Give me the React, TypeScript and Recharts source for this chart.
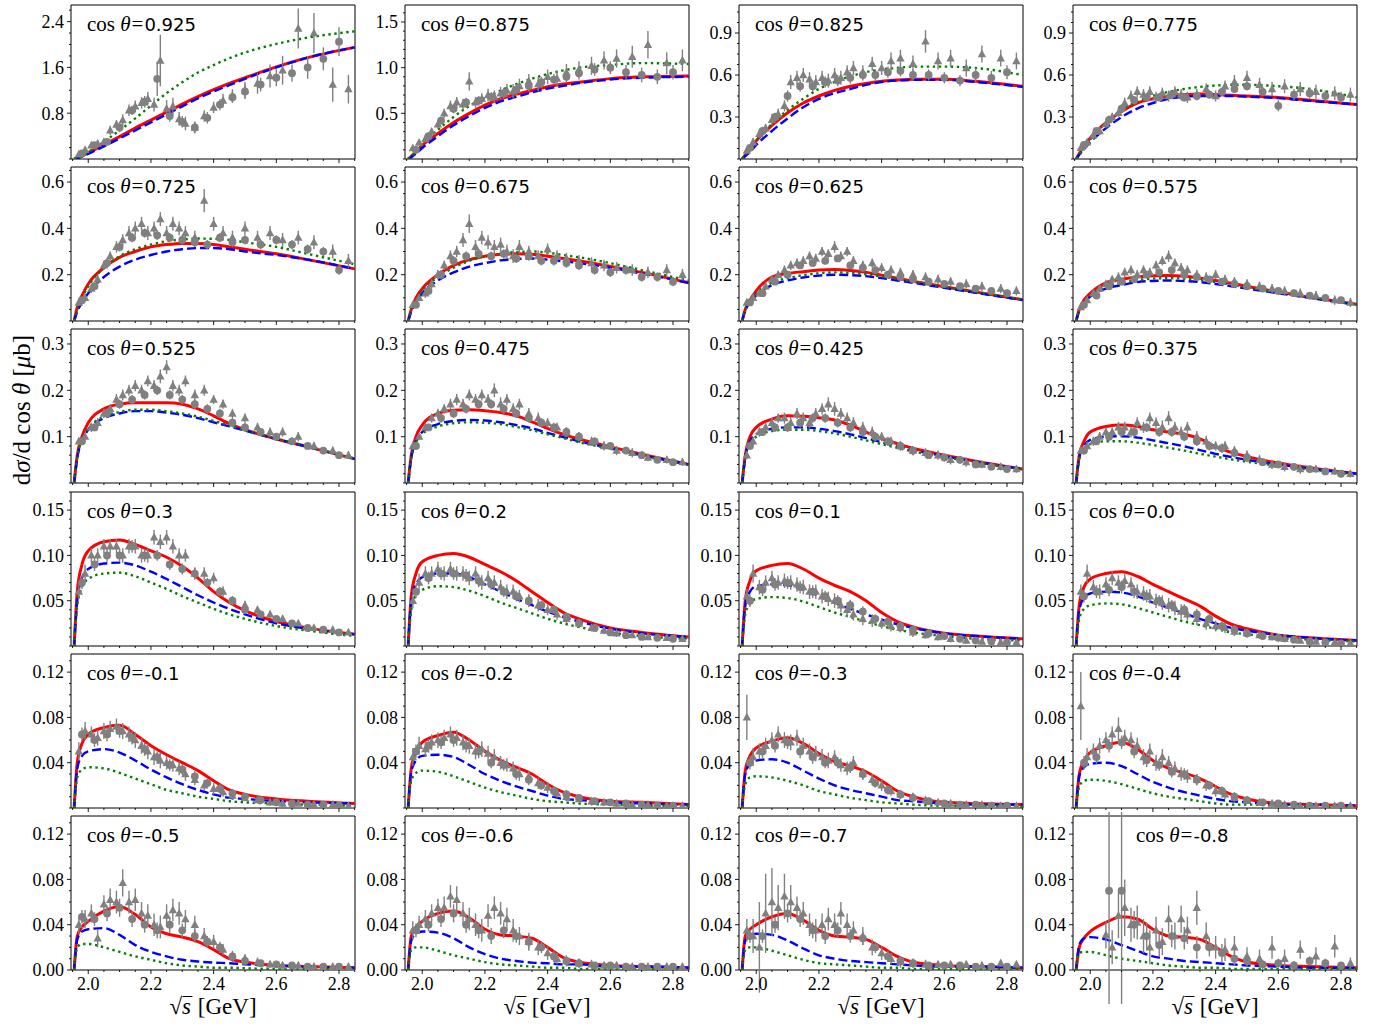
import React from 'react';
import { ComposedChart, Line, Scatter, XAxis, YAxis, ErrorBar, ReferenceArea } from 'recharts';

// panel titles, row-major (4 columns x 6 rows)
const cosLabels = [
  '0.925', '0.875', '0.825', '0.775',
  '0.725', '0.675', '0.625', '0.575',
  '0.525', '0.475', '0.425', '0.375',
  '0.3', '0.2', '0.1', '0.0',
  '-0.1', '-0.2', '-0.3', '-0.4',
  '-0.5', '-0.6', '-0.7', '-0.8',
];

// model curves: sqrt(s) grid shared by all panels
const curveEnergy = [1.955, 1.965, 1.98, 2.0, 2.05, 2.1, 2.15, 2.2, 2.25, 2.3, 2.35, 2.4, 2.45, 2.5, 2.6, 2.7, 2.85];

// full model (red solid)
const redCurves = [
  [0, 0.02, 0.05, 0.11, 0.25, 0.39, 0.54, 0.68, 0.82, 0.96, 1.09, 1.21, 1.32, 1.42, 1.61, 1.77, 1.95],
  [0, 0.03, 0.08, 0.15, 0.28, 0.40, 0.50, 0.59, 0.66, 0.71, 0.75, 0.79, 0.82, 0.84, 0.88, 0.90, 0.91],
  [0, 0.03, 0.07, 0.13, 0.24, 0.33, 0.40, 0.45, 0.49, 0.52, 0.54, 0.555, 0.565, 0.57, 0.57, 0.555, 0.52],
  [0, 0.04, 0.09, 0.15, 0.26, 0.34, 0.40, 0.43, 0.45, 0.46, 0.465, 0.46, 0.455, 0.45, 0.44, 0.42, 0.39],
  [0, 0.06, 0.11, 0.16, 0.23, 0.275, 0.30, 0.32, 0.33, 0.335, 0.335, 0.33, 0.32, 0.31, 0.29, 0.265, 0.225],
  [0, 0.05, 0.10, 0.14, 0.20, 0.24, 0.265, 0.28, 0.288, 0.29, 0.288, 0.28, 0.27, 0.26, 0.235, 0.21, 0.165],
  [0, 0.05, 0.09, 0.13, 0.19, 0.205, 0.213, 0.22, 0.222, 0.218, 0.21, 0.198, 0.185, 0.172, 0.148, 0.125, 0.092],
  [0, 0.05, 0.09, 0.12, 0.165, 0.18, 0.19, 0.195, 0.196, 0.193, 0.185, 0.175, 0.163, 0.15, 0.125, 0.103, 0.072],
  [0, 0.06, 0.10, 0.13, 0.16, 0.17, 0.173, 0.173, 0.173, 0.17, 0.16, 0.145, 0.128, 0.115, 0.095, 0.078, 0.052],
  [0, 0.06, 0.10, 0.125, 0.15, 0.157, 0.158, 0.156, 0.152, 0.145, 0.132, 0.118, 0.105, 0.095, 0.078, 0.062, 0.04],
  [0, 0.06, 0.10, 0.12, 0.138, 0.145, 0.144, 0.141, 0.136, 0.125, 0.11, 0.096, 0.085, 0.075, 0.06, 0.047, 0.03],
  [0, 0.06, 0.09, 0.11, 0.122, 0.125, 0.122, 0.115, 0.11, 0.105, 0.095, 0.078, 0.066, 0.057, 0.043, 0.033, 0.02],
  [0, 0.06, 0.09, 0.105, 0.115, 0.117, 0.112, 0.105, 0.098, 0.088, 0.075, 0.06, 0.048, 0.039, 0.027, 0.02, 0.013],
  [0, 0.055, 0.08, 0.093, 0.1, 0.102, 0.098, 0.09, 0.082, 0.072, 0.06, 0.048, 0.037, 0.03, 0.02, 0.015, 0.01],
  [0, 0.05, 0.072, 0.083, 0.089, 0.091, 0.085, 0.075, 0.067, 0.06, 0.05, 0.037, 0.027, 0.021, 0.014, 0.011, 0.008],
  [0, 0.045, 0.065, 0.074, 0.08, 0.082, 0.077, 0.068, 0.06, 0.052, 0.044, 0.033, 0.024, 0.019, 0.012, 0.009, 0.006],
  [0, 0.04, 0.057, 0.065, 0.071, 0.073, 0.065, 0.055, 0.047, 0.04, 0.033, 0.024, 0.016, 0.012, 0.008, 0.006, 0.004],
  [0, 0.035, 0.05, 0.058, 0.064, 0.067, 0.06, 0.05, 0.042, 0.036, 0.03, 0.021, 0.014, 0.01, 0.006, 0.005, 0.003],
  [0, 0.033, 0.046, 0.053, 0.059, 0.062, 0.057, 0.048, 0.041, 0.037, 0.032, 0.024, 0.015, 0.01, 0.005, 0.004, 0.003],
  [0, 0.03, 0.042, 0.049, 0.055, 0.058, 0.052, 0.042, 0.035, 0.031, 0.026, 0.019, 0.012, 0.008, 0.004, 0.003, 0.002],
  [0, 0.03, 0.038, 0.043, 0.052, 0.056, 0.049, 0.038, 0.032, 0.029, 0.025, 0.018, 0.01, 0.007, 0.004, 0.003, 0.002],
  [0, 0.03, 0.038, 0.043, 0.05, 0.052, 0.046, 0.036, 0.031, 0.03, 0.028, 0.02, 0.011, 0.007, 0.004, 0.003, 0.002],
  [0, 0.03, 0.036, 0.04, 0.047, 0.05, 0.044, 0.035, 0.03, 0.029, 0.027, 0.02, 0.012, 0.007, 0.004, 0.003, 0.002],
  [0, 0.02, 0.028, 0.034, 0.042, 0.047, 0.045, 0.036, 0.03, 0.029, 0.027, 0.02, 0.012, 0.007, 0.004, 0.003, 0.002],
];

// blue dashed
const blueCurves = [
  [0, 0.015, 0.04, 0.09, 0.22, 0.36, 0.50, 0.64, 0.78, 0.92, 1.06, 1.18, 1.29, 1.40, 1.60, 1.77, 1.95],
  [0, 0.02, 0.06, 0.12, 0.25, 0.37, 0.47, 0.56, 0.63, 0.68, 0.73, 0.77, 0.80, 0.83, 0.87, 0.89, 0.90],
  [0, 0.02, 0.05, 0.10, 0.20, 0.29, 0.37, 0.43, 0.47, 0.50, 0.53, 0.55, 0.56, 0.565, 0.565, 0.55, 0.515],
  [0, 0.03, 0.07, 0.12, 0.22, 0.30, 0.36, 0.40, 0.43, 0.445, 0.45, 0.45, 0.45, 0.445, 0.435, 0.415, 0.39],
  [0, 0.04, 0.08, 0.12, 0.19, 0.235, 0.265, 0.285, 0.30, 0.31, 0.315, 0.315, 0.31, 0.30, 0.285, 0.265, 0.225],
  [0, 0.04, 0.08, 0.12, 0.175, 0.21, 0.235, 0.25, 0.262, 0.268, 0.27, 0.265, 0.258, 0.25, 0.23, 0.205, 0.165],
  [0, 0.045, 0.08, 0.11, 0.155, 0.175, 0.188, 0.196, 0.2, 0.198, 0.194, 0.185, 0.175, 0.165, 0.143, 0.122, 0.09],
  [0, 0.045, 0.08, 0.105, 0.14, 0.155, 0.168, 0.173, 0.175, 0.173, 0.168, 0.16, 0.15, 0.14, 0.12, 0.1, 0.07],
  [0, 0.055, 0.09, 0.115, 0.14, 0.15, 0.155, 0.155, 0.152, 0.147, 0.14, 0.131, 0.122, 0.113, 0.095, 0.078, 0.052],
  [0, 0.055, 0.09, 0.11, 0.127, 0.134, 0.136, 0.135, 0.131, 0.125, 0.118, 0.108, 0.099, 0.09, 0.075, 0.06, 0.04],
  [0, 0.055, 0.09, 0.105, 0.117, 0.12, 0.12, 0.117, 0.112, 0.105, 0.097, 0.088, 0.079, 0.071, 0.058, 0.046, 0.03],
  [0, 0.055, 0.08, 0.093, 0.1, 0.101, 0.098, 0.092, 0.086, 0.079, 0.071, 0.063, 0.056, 0.05, 0.04, 0.031, 0.02],
  [0, 0.05, 0.075, 0.085, 0.091, 0.092, 0.089, 0.082, 0.074, 0.065, 0.056, 0.048, 0.041, 0.035, 0.025, 0.019, 0.013],
  [0, 0.05, 0.068, 0.076, 0.08, 0.08, 0.076, 0.068, 0.06, 0.052, 0.045, 0.038, 0.032, 0.027, 0.019, 0.014, 0.01],
  [0, 0.045, 0.06, 0.066, 0.068, 0.067, 0.062, 0.055, 0.048, 0.041, 0.035, 0.029, 0.024, 0.02, 0.014, 0.011, 0.008],
  [0, 0.04, 0.053, 0.058, 0.06, 0.059, 0.055, 0.048, 0.042, 0.036, 0.03, 0.025, 0.02, 0.017, 0.012, 0.009, 0.006],
  [0, 0.035, 0.046, 0.05, 0.052, 0.049, 0.042, 0.034, 0.027, 0.021, 0.016, 0.012, 0.009, 0.008, 0.006, 0.005, 0.004],
  [0, 0.032, 0.042, 0.046, 0.047, 0.045, 0.038, 0.03, 0.024, 0.019, 0.015, 0.011, 0.008, 0.007, 0.005, 0.004, 0.003],
  [0, 0.03, 0.039, 0.042, 0.043, 0.04, 0.033, 0.026, 0.02, 0.016, 0.013, 0.01, 0.007, 0.006, 0.004, 0.003, 0.003],
  [0, 0.028, 0.036, 0.039, 0.04, 0.037, 0.03, 0.023, 0.018, 0.014, 0.011, 0.008, 0.006, 0.005, 0.003, 0.003, 0.002],
  [0, 0.027, 0.034, 0.036, 0.037, 0.031, 0.022, 0.016, 0.012, 0.009, 0.0075, 0.0065, 0.006, 0.005, 0.004, 0.003, 0.002],
  [0, 0.026, 0.032, 0.034, 0.033, 0.028, 0.02, 0.014, 0.01, 0.008, 0.0065, 0.006, 0.005, 0.005, 0.003, 0.003, 0.002],
  [0, 0.026, 0.03, 0.032, 0.031, 0.026, 0.019, 0.013, 0.01, 0.008, 0.007, 0.006, 0.005, 0.004, 0.003, 0.003, 0.002],
  [0, 0.022, 0.028, 0.029, 0.027, 0.022, 0.017, 0.012, 0.01, 0.008, 0.007, 0.006, 0.005, 0.004, 0.003, 0.002, 0.002],
];

// green dotted
const greenCurves = [
  [0, 0.02, 0.05, 0.12, 0.30, 0.50, 0.71, 0.93, 1.15, 1.34, 1.51, 1.64, 1.76, 1.86, 2.01, 2.12, 2.23],
  [0, 0.03, 0.08, 0.16, 0.32, 0.46, 0.58, 0.67, 0.75, 0.82, 0.88, 0.93, 0.97, 1.0, 1.03, 1.05, 1.04],
  [0, 0.03, 0.07, 0.13, 0.25, 0.35, 0.43, 0.50, 0.55, 0.59, 0.62, 0.64, 0.65, 0.66, 0.66, 0.65, 0.60],
  [0, 0.03, 0.08, 0.14, 0.26, 0.35, 0.41, 0.45, 0.48, 0.50, 0.515, 0.525, 0.53, 0.53, 0.52, 0.50, 0.44],
  [0, 0.05, 0.10, 0.15, 0.23, 0.28, 0.31, 0.33, 0.345, 0.352, 0.356, 0.355, 0.35, 0.34, 0.32, 0.29, 0.245],
  [0, 0.05, 0.09, 0.13, 0.19, 0.23, 0.26, 0.28, 0.29, 0.298, 0.30, 0.295, 0.285, 0.275, 0.25, 0.22, 0.175],
  [0, 0.05, 0.085, 0.12, 0.165, 0.185, 0.198, 0.206, 0.21, 0.208, 0.202, 0.192, 0.182, 0.17, 0.147, 0.125, 0.092],
  [0, 0.05, 0.085, 0.11, 0.15, 0.165, 0.177, 0.183, 0.185, 0.183, 0.177, 0.168, 0.157, 0.145, 0.123, 0.102, 0.071],
  [0, 0.056, 0.092, 0.117, 0.143, 0.153, 0.158, 0.158, 0.155, 0.15, 0.143, 0.134, 0.124, 0.114, 0.096, 0.079, 0.053],
  [0, 0.053, 0.087, 0.106, 0.122, 0.129, 0.131, 0.13, 0.127, 0.121, 0.114, 0.105, 0.097, 0.088, 0.074, 0.059, 0.039],
  [0, 0.052, 0.086, 0.1, 0.112, 0.115, 0.115, 0.112, 0.107, 0.1, 0.092, 0.084, 0.076, 0.068, 0.056, 0.044, 0.029],
  [0, 0.05, 0.073, 0.084, 0.09, 0.09, 0.087, 0.082, 0.076, 0.07, 0.063, 0.057, 0.051, 0.046, 0.037, 0.029, 0.018],
  [0, 0.045, 0.065, 0.074, 0.08, 0.081, 0.077, 0.07, 0.063, 0.055, 0.048, 0.041, 0.035, 0.03, 0.022, 0.017, 0.011],
  [0, 0.04, 0.056, 0.062, 0.066, 0.065, 0.061, 0.055, 0.048, 0.042, 0.036, 0.03, 0.025, 0.021, 0.015, 0.011, 0.008],
  [0, 0.035, 0.047, 0.052, 0.054, 0.053, 0.049, 0.043, 0.037, 0.032, 0.027, 0.022, 0.018, 0.015, 0.011, 0.008, 0.006],
  [0, 0.03, 0.041, 0.045, 0.047, 0.046, 0.042, 0.037, 0.032, 0.027, 0.023, 0.019, 0.015, 0.013, 0.009, 0.007, 0.005],
  [0, 0.027, 0.034, 0.036, 0.035, 0.031, 0.026, 0.021, 0.016, 0.013, 0.01, 0.008, 0.006, 0.005, 0.004, 0.003, 0.002],
  [0, 0.024, 0.031, 0.033, 0.032, 0.028, 0.023, 0.018, 0.014, 0.011, 0.008, 0.006, 0.005, 0.004, 0.003, 0.002, 0.002],
  [0, 0.021, 0.027, 0.028, 0.027, 0.024, 0.02, 0.015, 0.012, 0.009, 0.007, 0.005, 0.004, 0.003, 0.002, 0.002, 0.001],
  [0, 0.019, 0.024, 0.025, 0.024, 0.021, 0.017, 0.013, 0.01, 0.008, 0.006, 0.004, 0.003, 0.003, 0.002, 0.001, 0.001],
  [0, 0.02, 0.023, 0.023, 0.02, 0.016, 0.012, 0.009, 0.006, 0.004, 0.003, 0.002, 0.002, 0.0015, 0.001, 0.001, 0.001],
  [0, 0.018, 0.02, 0.02, 0.017, 0.013, 0.01, 0.007, 0.005, 0.004, 0.003, 0.002, 0.002, 0.001, 0.001, 0.001, 0.001],
  [0, 0.018, 0.02, 0.02, 0.017, 0.013, 0.009, 0.006, 0.005, 0.004, 0.003, 0.002, 0.002, 0.001, 0.001, 0.001, 0.001],
  [0, 0.015, 0.016, 0.016, 0.013, 0.01, 0.008, 0.006, 0.004, 0.003, 0.002, 0.002, 0.001, 0.001, 0.001, 0.001, 0.001],
];

// measured points: triangles
const triEnergy = [1.97, 1.99, 2.01, 2.03, 2.05, 2.07, 2.09, 2.11, 2.13, 2.15, 2.17, 2.19, 2.21, 2.23, 2.25, 2.27, 2.29, 2.31, 2.34, 2.37, 2.40, 2.43, 2.46, 2.50, 2.54, 2.58, 2.62, 2.67, 2.72, 2.78, 2.83];

const triValues = [
  [0.08, 0.16, 0.24, 0.27, 0.30, 0.50, 0.60, 0.68, 0.85, 0.92, 0.98, 1.05, 0.95, 1.72, 0.88, 0.92, 0.70, 0.62, 0.55, 0.75, 0.90, 1.02, 1.10, 1.20, 1.32, 1.45, 1.55, 2.28, 2.20, 1.30, 1.22],
  [0.12, 0.18, 0.22, 0.30, 0.38, 0.50, 0.58, 0.62, 0.60, 0.85, 0.62, 0.66, 0.70, 0.68, 0.72, 0.75, 0.74, 0.80, 0.85, 0.82, 0.90, 0.88, 0.95, 0.98, 1.02, 1.08, 1.10, 1.12, 1.25, 1.05, 1.08],
  [0.06, 0.12, 0.18, 0.22, 0.28, 0.32, 0.38, 0.55, 0.58, 0.60, 0.57, 0.55, 0.58, 0.56, 0.60, 0.58, 0.62, 0.65, 0.62, 0.68, 0.65, 0.70, 0.72, 0.68, 0.84, 0.70, 0.72, 0.65, 0.75, 0.72, 0.70],
  [0.08, 0.12, 0.17, 0.20, 0.25, 0.30, 0.33, 0.40, 0.45, 0.48, 0.46, 0.48, 0.44, 0.47, 0.45, 0.48, 0.46, 0.44, 0.46, 0.50, 0.45, 0.52, 0.55, 0.58, 0.53, 0.50, 0.52, 0.50, 0.48, 0.47, 0.46],
  [0.08, 0.10, 0.14, 0.18, 0.24, 0.28, 0.32, 0.35, 0.38, 0.40, 0.42, 0.38, 0.40, 0.44, 0.38, 0.42, 0.40, 0.38, 0.36, 0.52, 0.42, 0.38, 0.36, 0.40, 0.36, 0.38, 0.35, 0.36, 0.34, 0.30, 0.26],
  [0.07, 0.10, 0.12, 0.16, 0.20, 0.24, 0.28, 0.30, 0.35, 0.42, 0.32, 0.36, 0.34, 0.32, 0.33, 0.30, 0.28, 0.32, 0.30, 0.28, 0.31, 0.28, 0.27, 0.26, 0.25, 0.24, 0.23, 0.22, 0.21, 0.22, 0.20],
  [0.08, 0.10, 0.12, 0.15, 0.18, 0.20, 0.22, 0.24, 0.25, 0.26, 0.28, 0.27, 0.30, 0.29, 0.32, 0.28, 0.30, 0.26, 0.24, 0.25, 0.23, 0.22, 0.21, 0.20, 0.19, 0.18, 0.17, 0.16, 0.15, 0.14, 0.13],
  [0.06, 0.09, 0.12, 0.14, 0.16, 0.18, 0.19, 0.21, 0.22, 0.20, 0.22, 0.21, 0.24, 0.26, 0.28, 0.25, 0.23, 0.22, 0.20, 0.19, 0.20, 0.18, 0.17, 0.16, 0.15, 0.14, 0.13, 0.12, 0.11, 0.09, 0.08],
  [0.09, 0.10, 0.12, 0.13, 0.15, 0.16, 0.18, 0.19, 0.20, 0.21, 0.20, 0.22, 0.21, 0.23, 0.25, 0.21, 0.20, 0.22, 0.19, 0.20, 0.18, 0.17, 0.15, 0.14, 0.12, 0.11, 0.11, 0.10, 0.08, 0.07, 0.06],
  [0.08, 0.10, 0.12, 0.14, 0.15, 0.16, 0.17, 0.18, 0.17, 0.19, 0.18, 0.19, 0.18, 0.20, 0.17, 0.18, 0.16, 0.17, 0.15, 0.14, 0.13, 0.12, 0.11, 0.10, 0.09, 0.08, 0.07, 0.065, 0.055, 0.05, 0.045],
  [0.06, 0.09, 0.11, 0.12, 0.13, 0.14, 0.14, 0.13, 0.15, 0.14, 0.13, 0.15, 0.16, 0.17, 0.16, 0.15, 0.14, 0.13, 0.12, 0.11, 0.10, 0.09, 0.08, 0.07, 0.065, 0.06, 0.05, 0.045, 0.04, 0.035, 0.03],
  [0.07, 0.08, 0.09, 0.10, 0.11, 0.11, 0.12, 0.12, 0.11, 0.13, 0.12, 0.14, 0.13, 0.12, 0.14, 0.12, 0.11, 0.12, 0.10, 0.09, 0.08, 0.08, 0.07, 0.06, 0.05, 0.04, 0.035, 0.03, 0.03, 0.025, 0.02],
  [0.06, 0.08, 0.10, 0.10, 0.11, 0.11, 0.11, 0.10, 0.11, 0.11, 0.10, 0.10, 0.12, 0.115, 0.12, 0.11, 0.10, 0.10, 0.08, 0.08, 0.075, 0.06, 0.05, 0.045, 0.04, 0.035, 0.03, 0.025, 0.02, 0.018, 0.015],
  [0.05, 0.07, 0.08, 0.08, 0.085, 0.08, 0.085, 0.08, 0.08, 0.075, 0.08, 0.07, 0.075, 0.07, 0.065, 0.06, 0.06, 0.055, 0.05, 0.045, 0.04, 0.035, 0.03, 0.025, 0.02, 0.017, 0.014, 0.012, 0.01, 0.009, 0.008],
  [0.055, 0.08, 0.065, 0.07, 0.075, 0.07, 0.072, 0.07, 0.068, 0.065, 0.06, 0.06, 0.055, 0.052, 0.05, 0.045, 0.04, 0.035, 0.03, 0.028, 0.025, 0.022, 0.02, 0.015, 0.012, 0.01, 0.008, 0.006, 0.005, 0.004, 0.004],
  [0.06, 0.08, 0.065, 0.06, 0.068, 0.075, 0.07, 0.072, 0.068, 0.06, 0.058, 0.055, 0.05, 0.048, 0.045, 0.042, 0.038, 0.035, 0.03, 0.025, 0.022, 0.02, 0.016, 0.014, 0.012, 0.01, 0.008, 0.006, 0.005, 0.004, 0.003],
  [0.05, 0.068, 0.065, 0.062, 0.068, 0.07, 0.072, 0.068, 0.065, 0.06, 0.055, 0.05, 0.045, 0.042, 0.04, 0.038, 0.035, 0.03, 0.025, 0.02, 0.017, 0.014, 0.011, 0.009, 0.007, 0.005, 0.004, 0.004, 0.003, 0.003, 0.002],
  [0.045, 0.055, 0.052, 0.058, 0.06, 0.062, 0.065, 0.062, 0.058, 0.055, 0.05, 0.052, 0.048, 0.045, 0.04, 0.038, 0.035, 0.03, 0.028, 0.022, 0.018, 0.013, 0.01, 0.008, 0.006, 0.005, 0.004, 0.003, 0.003, 0.002, 0.002],
  [0.08, 0.045, 0.05, 0.055, 0.06, 0.065, 0.06, 0.058, 0.062, 0.055, 0.05, 0.048, 0.045, 0.042, 0.045, 0.038, 0.035, 0.04, 0.03, 0.025, 0.02, 0.015, 0.012, 0.01, 0.007, 0.005, 0.004, 0.003, 0.003, 0.002, 0.002],
  [0.09, 0.045, 0.05, 0.055, 0.06, 0.065, 0.07, 0.062, 0.06, 0.055, 0.045, 0.05, 0.04, 0.045, 0.04, 0.035, 0.03, 0.028, 0.025, 0.02, 0.015, 0.012, 0.009, 0.007, 0.005, 0.004, 0.003, 0.002, 0.002, 0.002, 0.002],
  [0.04, 0.045, 0.05, 0.028, 0.058, 0.062, 0.06, 0.077, 0.06, 0.062, 0.05, 0.048, 0.04, 0.038, 0.048, 0.053, 0.05, 0.045, 0.04, 0.03, 0.025, 0.018, 0.012, 0.01, 0.007, 0.005, 0.004, 0.004, 0.003, 0.003, 0.003],
  [0.035, 0.04, 0.045, 0.05, 0.055, 0.055, 0.065, 0.062, 0.05, 0.045, 0.04, 0.035, 0.048, 0.055, 0.05, 0.045, 0.035, 0.03, 0.025, 0.02, 0.015, 0.01, 0.008, 0.006, 0.005, 0.004, 0.004, 0.003, 0.003, 0.003, 0.003],
  [0.035, 0.03, 0.02, 0.05, 0.06, 0.055, 0.065, 0.06, 0.055, 0.05, 0.04, 0.035, 0.04, 0.045, 0.04, 0.05, 0.04, 0.035, 0.03, 0.02, 0.015, 0.01, 0.007, 0.006, 0.005, 0.005, 0.005, 0.005, 0.004, 0.006, 0.005],
  [null, null, null, null, 0.031, 0.02, 0.048, 0.055, 0.04, 0.042, 0.03, 0.02, 0.035, 0.025, 0.045, 0.03, 0.045, 0.035, 0.055, 0.03, 0.02, 0.018, 0.02, 0.012, 0.01, 0.02, 0.01, 0.018, 0.012, 0.021, 0.006],
];

// triangle error bars
const errTri925 = [0.04, 0.05, 0.05, 0.06, 0.06, 0.08, 0.08, 0.1, 0.1, 0.1, 0.1, 0.12, 0.12, 0.45, 0.15, 0.15, 0.12, 0.12, 0.1, 0.1, 0.1, 0.12, 0.12, 0.15, 0.18, 0.2, 0.25, 0.35, 0.35, 0.3, 0.25];
const errTri875 = [0.03, 0.03, 0.04, 0.04, 0.05, 0.05, 0.06, 0.06, 0.06, 0.1, 0.06, 0.06, 0.07, 0.07, 0.07, 0.07, 0.08, 0.08, 0.08, 0.08, 0.08, 0.09, 0.09, 0.09, 0.1, 0.1, 0.1, 0.12, 0.15, 0.12, 0.12];
const errTri825 = [0.02, 0.03, 0.03, 0.03, 0.04, 0.04, 0.04, 0.05, 0.05, 0.05, 0.05, 0.05, 0.05, 0.05, 0.05, 0.05, 0.05, 0.05, 0.05, 0.05, 0.05, 0.06, 0.06, 0.06, 0.08, 0.06, 0.06, 0.06, 0.06, 0.06, 0.06];
const errTri775 = [0.02, 0.02, 0.03, 0.03, 0.03, 0.03, 0.03, 0.04, 0.04, 0.04, 0.04, 0.04, 0.04, 0.04, 0.04, 0.04, 0.04, 0.04, 0.04, 0.04, 0.04, 0.04, 0.05, 0.05, 0.05, 0.05, 0.05, 0.05, 0.05, 0.05, 0.05];
const errTri725 = [0.015, 0.015, 0.02, 0.02, 0.02, 0.02, 0.025, 0.025, 0.03, 0.03, 0.03, 0.03, 0.03, 0.03, 0.03, 0.03, 0.03, 0.03, 0.03, 0.05, 0.03, 0.03, 0.03, 0.03, 0.03, 0.03, 0.03, 0.03, 0.03, 0.03, 0.03];
const errTri675 = [0.015, 0.015, 0.02, 0.02, 0.02, 0.02, 0.025, 0.025, 0.03, 0.04, 0.03, 0.03, 0.03, 0.03, 0.03, 0.03, 0.03, 0.03, 0.025, 0.025, 0.025, 0.025, 0.025, 0.025, 0.025, 0.025, 0.025, 0.025, 0.025, 0.025, 0.025];
const errTriRow2 = [0.012, 0.012, 0.015, 0.015, 0.015, 0.015, 0.02, 0.02, 0.02, 0.02, 0.02, 0.02, 0.02, 0.02, 0.025, 0.02, 0.02, 0.02, 0.02, 0.02, 0.02, 0.02, 0.02, 0.02, 0.02, 0.02, 0.02, 0.02, 0.02, 0.02, 0.02];
const errTriRow3 = [0.008, 0.008, 0.01, 0.01, 0.01, 0.01, 0.012, 0.012, 0.012, 0.012, 0.012, 0.012, 0.012, 0.015, 0.015, 0.012, 0.012, 0.012, 0.012, 0.012, 0.01, 0.01, 0.01, 0.01, 0.01, 0.01, 0.01, 0.01, 0.008, 0.008, 0.008];
const errTriRow4 = [0.008, 0.01, 0.008, 0.008, 0.008, 0.008, 0.008, 0.008, 0.008, 0.008, 0.008, 0.008, 0.008, 0.008, 0.008, 0.008, 0.008, 0.007, 0.007, 0.007, 0.006, 0.006, 0.005, 0.005, 0.004, 0.004, 0.004, 0.003, 0.003, 0.003, 0.003];
const errTriRow5 = [0.008, 0.008, 0.007, 0.007, 0.007, 0.007, 0.007, 0.007, 0.007, 0.007, 0.007, 0.007, 0.007, 0.007, 0.006, 0.006, 0.006, 0.006, 0.005, 0.005, 0.005, 0.004, 0.004, 0.003, 0.003, 0.003, 0.003, 0.002, 0.002, 0.002, 0.002];
const errTriM03 = [0.02, 0.008, 0.007, 0.007, 0.007, 0.007, 0.007, 0.007, 0.007, 0.007, 0.007, 0.007, 0.007, 0.007, 0.006, 0.006, 0.006, 0.006, 0.005, 0.005, 0.005, 0.004, 0.004, 0.003, 0.003, 0.003, 0.003, 0.002, 0.002, 0.002, 0.002];
const errTriM04 = [0.03, 0.008, 0.007, 0.007, 0.007, 0.007, 0.01, 0.007, 0.007, 0.007, 0.007, 0.007, 0.007, 0.007, 0.006, 0.006, 0.006, 0.006, 0.005, 0.005, 0.005, 0.004, 0.004, 0.003, 0.003, 0.003, 0.003, 0.002, 0.002, 0.002, 0.002];
const errTriRow6 = [0.008, 0.008, 0.008, 0.008, 0.008, 0.01, 0.01, 0.012, 0.01, 0.01, 0.01, 0.01, 0.01, 0.01, 0.01, 0.01, 0.01, 0.008, 0.008, 0.007, 0.006, 0.005, 0.005, 0.004, 0.004, 0.003, 0.003, 0.003, 0.003, 0.003, 0.003];
const errTriM07 = [0.01, 0.015, 0.04, 0.035, 0.03, 0.02, 0.02, 0.015, 0.01, 0.01, 0.01, 0.01, 0.01, 0.01, 0.01, 0.01, 0.01, 0.008, 0.008, 0.007, 0.006, 0.005, 0.005, 0.004, 0.004, 0.003, 0.003, 0.003, 0.003, 0.003, 0.003];
const errTriM08 = [0, 0, 0, 0, 0.012, 0.015, 0.02, 0.025, 0.015, 0.015, 0.015, 0.015, 0.012, 0.012, 0.012, 0.012, 0.012, 0.012, 0.015, 0.012, 0.01, 0.01, 0.01, 0.008, 0.008, 0.01, 0.008, 0.008, 0.008, 0.01, 0.005];

const triErrors = [
  errTri925, errTri875, errTri825, errTri775,
  errTri725, errTri675, errTriRow2, errTriRow2,
  errTriRow3, errTriRow3, errTriRow3, errTriRow3,
  errTriRow4, errTriRow4, errTriRow4, errTriRow4,
  errTriRow5, errTriRow5, errTriM03, errTriM04,
  errTriRow6, errTriRow6, errTriM07, errTriM08,
];

// measured points: circles
const circEnergy = [1.98, 2.02, 2.06, 2.10, 2.14, 2.18, 2.22, 2.26, 2.30, 2.34, 2.38, 2.42, 2.46, 2.50, 2.55, 2.60, 2.65, 2.70, 2.75, 2.80];

const circValues = [
  [0.10, 0.24, 0.30, 0.55, 0.85, 1.00, 1.40, 0.75, 0.65, 0.55, 0.72, 0.95, 1.08, 1.18, 1.30, 1.42, 1.50, 1.60, 1.75, 2.05],
  [0.10, 0.25, 0.42, 0.55, 0.62, 0.64, 0.68, 0.72, 0.76, 0.80, 0.84, 0.87, 0.90, 0.94, 0.98, 1.00, 0.95, 0.92, 0.90, 0.95],
  [0.08, 0.20, 0.30, 0.45, 0.52, 0.52, 0.55, 0.56, 0.58, 0.60, 0.60, 0.62, 0.63, 0.60, 0.60, 0.58, 0.56, 0.60, 0.58, 0.62],
  [0.10, 0.20, 0.28, 0.36, 0.42, 0.44, 0.44, 0.46, 0.44, 0.45, 0.46, 0.48, 0.50, 0.52, 0.48, 0.38, 0.46, 0.47, 0.45, 0.44],
  [0.09, 0.15, 0.25, 0.32, 0.36, 0.38, 0.37, 0.36, 0.35, 0.34, 0.33, 0.36, 0.34, 0.35, 0.33, 0.35, 0.33, 0.31, 0.30, 0.22],
  [0.07, 0.13, 0.20, 0.26, 0.28, 0.29, 0.28, 0.29, 0.27, 0.28, 0.26, 0.26, 0.25, 0.24, 0.22, 0.21, 0.22, 0.19, 0.19, 0.17],
  [0.08, 0.12, 0.17, 0.20, 0.24, 0.25, 0.26, 0.27, 0.24, 0.23, 0.22, 0.20, 0.19, 0.18, 0.17, 0.16, 0.15, 0.14, 0.13, 0.12],
  [0.07, 0.11, 0.15, 0.17, 0.18, 0.20, 0.21, 0.22, 0.20, 0.19, 0.18, 0.17, 0.16, 0.15, 0.14, 0.13, 0.12, 0.11, 0.10, 0.09],
  [0.09, 0.12, 0.15, 0.17, 0.18, 0.19, 0.20, 0.19, 0.18, 0.17, 0.16, 0.15, 0.13, 0.12, 0.11, 0.10, 0.09, 0.08, 0.07, 0.06],
  [0.08, 0.12, 0.14, 0.15, 0.16, 0.17, 0.17, 0.16, 0.15, 0.14, 0.13, 0.12, 0.11, 0.10, 0.09, 0.08, 0.07, 0.06, 0.05, 0.045],
  [0.08, 0.11, 0.12, 0.12, 0.13, 0.14, 0.14, 0.13, 0.12, 0.11, 0.10, 0.09, 0.08, 0.07, 0.06, 0.055, 0.05, 0.04, 0.035, 0.03],
  [0.07, 0.09, 0.10, 0.11, 0.11, 0.12, 0.11, 0.11, 0.10, 0.09, 0.08, 0.075, 0.065, 0.055, 0.045, 0.04, 0.035, 0.03, 0.025, 0.02],
  [0.07, 0.09, 0.10, 0.10, 0.11, 0.10, 0.10, 0.09, 0.085, 0.08, 0.07, 0.06, 0.05, 0.04, 0.035, 0.03, 0.025, 0.02, 0.018, 0.015],
  [0.06, 0.075, 0.08, 0.08, 0.078, 0.072, 0.068, 0.06, 0.055, 0.05, 0.045, 0.04, 0.032, 0.025, 0.02, 0.015, 0.012, 0.01, 0.009, 0.008],
  [0.05, 0.062, 0.068, 0.07, 0.065, 0.06, 0.055, 0.05, 0.045, 0.038, 0.03, 0.027, 0.022, 0.018, 0.014, 0.011, 0.008, 0.006, 0.005, 0.004],
  [0.055, 0.06, 0.062, 0.065, 0.06, 0.055, 0.05, 0.045, 0.04, 0.035, 0.03, 0.022, 0.018, 0.014, 0.011, 0.009, 0.007, 0.005, 0.004, 0.003],
  [0.065, 0.06, 0.065, 0.068, 0.062, 0.052, 0.045, 0.038, 0.034, 0.028, 0.022, 0.017, 0.013, 0.01, 0.007, 0.005, 0.004, 0.003, 0.003, 0.002],
  [0.05, 0.055, 0.058, 0.06, 0.055, 0.05, 0.04, 0.038, 0.03, 0.025, 0.02, 0.015, 0.012, 0.009, 0.006, 0.005, 0.004, 0.003, 0.002, 0.002],
  [0.04, 0.05, 0.055, 0.058, 0.05, 0.045, 0.04, 0.04, 0.036, 0.03, 0.022, 0.016, 0.012, 0.009, 0.006, 0.004, 0.003, 0.003, 0.002, 0.002],
  [0.04, 0.045, 0.055, 0.058, 0.05, 0.042, 0.038, 0.032, 0.03, 0.025, 0.02, 0.015, 0.01, 0.007, 0.005, 0.004, 0.003, 0.002, 0.002, 0.002],
  [0.047, 0.045, 0.05, 0.055, 0.045, 0.04, 0.035, 0.04, 0.035, 0.03, 0.025, 0.02, 0.012, 0.008, 0.006, 0.005, 0.004, 0.003, 0.003, 0.003],
  [0.035, 0.04, 0.045, 0.05, 0.04, 0.035, 0.03, 0.035, 0.03, 0.025, 0.02, 0.012, 0.008, 0.006, 0.004, 0.004, 0.003, 0.003, 0.003, 0.003],
  [0.03, 0.03, 0.04, 0.05, 0.045, 0.035, 0.03, 0.035, 0.03, 0.028, 0.02, 0.012, 0.008, 0.006, 0.004, 0.004, 0.004, 0.003, 0.003, 0.003],
  [null, null, 0.07, 0.07, 0.04, 0.03, 0.022, 0.03, 0.028, 0.02, 0.02, 0.015, 0.01, 0.008, 0.005, 0.006, 0.004, 0.008, 0.006, 0.004],
];

// circle error bars
const errCirc925 = [0.04, 0.05, 0.06, 0.08, 0.08, 0.1, 0.3, 0.1, 0.1, 0.1, 0.1, 0.1, 0.1, 0.12, 0.12, 0.15, 0.15, 0.2, 0.2, 0.25];
const errCirc875 = [0.03, 0.04, 0.04, 0.05, 0.05, 0.05, 0.05, 0.06, 0.06, 0.06, 0.06, 0.06, 0.07, 0.07, 0.07, 0.07, 0.08, 0.08, 0.08, 0.08];
const errCirc825 = [0.02, 0.03, 0.03, 0.04, 0.04, 0.04, 0.04, 0.04, 0.04, 0.04, 0.04, 0.04, 0.04, 0.04, 0.04, 0.04, 0.04, 0.05, 0.05, 0.05];
const errCirc775 = [0.02, 0.02, 0.03, 0.03, 0.03, 0.03, 0.03, 0.03, 0.03, 0.03, 0.03, 0.03, 0.03, 0.03, 0.03, 0.04, 0.04, 0.04, 0.04, 0.04];
const errCircRow2a = [0.015, 0.015, 0.02, 0.02, 0.02, 0.02, 0.02, 0.02, 0.02, 0.02, 0.02, 0.02, 0.02, 0.02, 0.02, 0.02, 0.02, 0.02, 0.02, 0.02];
const errCircRow2b = [0.012, 0.012, 0.015, 0.015, 0.015, 0.015, 0.015, 0.015, 0.015, 0.015, 0.015, 0.015, 0.015, 0.015, 0.015, 0.015, 0.015, 0.015, 0.015, 0.015];
const errCircRow3 = [0.008, 0.008, 0.01, 0.01, 0.01, 0.01, 0.01, 0.01, 0.01, 0.01, 0.01, 0.01, 0.01, 0.01, 0.008, 0.008, 0.008, 0.008, 0.006, 0.006];
const errCircRow4 = [0.007, 0.007, 0.007, 0.007, 0.007, 0.007, 0.006, 0.006, 0.006, 0.006, 0.005, 0.005, 0.005, 0.004, 0.004, 0.003, 0.003, 0.003, 0.003, 0.003];
const errCircRow5 = [0.006, 0.006, 0.006, 0.006, 0.006, 0.006, 0.005, 0.005, 0.005, 0.005, 0.004, 0.004, 0.004, 0.003, 0.003, 0.003, 0.002, 0.002, 0.002, 0.002];
const errCircRow6 = [0.006, 0.006, 0.007, 0.008, 0.007, 0.007, 0.007, 0.007, 0.006, 0.006, 0.005, 0.005, 0.004, 0.004, 0.003, 0.003, 0.003, 0.003, 0.003, 0.003];
const errCircM08 = [0, 0, 0.15, 0.15, 0.012, 0.012, 0.01, 0.01, 0.01, 0.01, 0.008, 0.008, 0.006, 0.005, 0.004, 0.004, 0.004, 0.004, 0.004, 0.003];

const circErrors = [
  errCirc925, errCirc875, errCirc825, errCirc775,
  errCircRow2a, errCircRow2a, errCircRow2b, errCircRow2b,
  errCircRow3, errCircRow3, errCircRow3, errCircRow3,
  errCircRow4, errCircRow4, errCircRow4, errCircRow4,
  errCircRow5, errCircRow5, errCircRow5, errCircRow5,
  errCircRow6, errCircRow6, errCircRow6, errCircM08,
];

// y axes
const yTop = [
  2.69, 1.686, 1.1, 1.1,
  0.665, 0.665, 0.665, 0.665,
  0.3323, 0.3323, 0.3323, 0.3323,
  0.17, 0.17, 0.17, 0.17,
  0.136, 0.136, 0.136, 0.136,
  0.136, 0.136, 0.136, 0.136,
];
const ticksRow2 = [0.2, 0.4, 0.6];
const ticksRow3 = [0.1, 0.2, 0.3];
const ticksRow4 = [0.05, 0.1, 0.15];
const ticksRow5 = [0.04, 0.08, 0.12];
const ticksRow6 = [0, 0.04, 0.08, 0.12];
const yMajor = [
  [0.8, 1.6, 2.4], [0.5, 1.0, 1.5], [0.3, 0.6, 0.9], [0.3, 0.6, 0.9],
  ticksRow2, ticksRow2, ticksRow2, ticksRow2,
  ticksRow3, ticksRow3, ticksRow3, ticksRow3,
  ticksRow4, ticksRow4, ticksRow4, ticksRow4,
  ticksRow5, ticksRow5, ticksRow5, ticksRow5,
  ticksRow6, ticksRow6, ticksRow6, ticksRow6,
];
const yMinorStep = [
  0.2, 0.1, 0.075, 0.075,
  0.05, 0.05, 0.05, 0.05,
  0.02, 0.02, 0.02, 0.02,
  0.01, 0.01, 0.01, 0.01,
  0.01, 0.01, 0.01, 0.01,
  0.01, 0.01, 0.01, 0.01,
];
const yDigits = [1, 1, 1, 1, 1, 1, 1, 1, 1, 1, 1, 1, 2, 2, 2, 2, 2, 2, 2, 2, 2, 2, 2, 2];

// x axis
const xMajor = [2.0, 2.2, 2.4, 2.6, 2.8];
const xTicks = [1.95, 2.0, 2.05, 2.1, 2.15, 2.2, 2.25, 2.3, 2.35, 2.4, 2.45, 2.5, 2.55, 2.6, 2.65, 2.7, 2.75, 2.8, 2.85];
const X_MIN = 1.945;
const X_MAX = 2.851;

// layout
const colLeft = [71, 405, 739, 1073];
const rowTop = [5, 167.2, 329.4, 491.6, 653.8, 816];
const PLOT_W = 284;
const PLOT_H = 154;
const AXIS_W = 60;
const PAD = 4;
const TICK = 4;
const MINOR = 2;
const GAP = 3;
const GRAY = '#808080';
const SERIF = "'Liberation Serif', 'DejaVu Serif', serif";
const SANS = "'DejaVu Sans', sans-serif";

const near = (list: number[], v: number) => list.some((m) => Math.abs(m - v) < 1e-6);

function YTick(props: any) {
  const { x, y, payload, majors, digits } = props;
  const v = payload.value;
  const major = near(majors, v);
  const edge = x + GAP + TICK;
  return (
    <g>
      <line x1={edge - (major ? TICK : MINOR)} x2={edge} y1={y} y2={y} stroke="#000" strokeWidth={0.9} />
      {major && (
        <text x={x} y={y} dy="0.35em" textAnchor="end" fontFamily={SERIF} fontSize={18} fill="#000">
          {v.toFixed(digits)}
        </text>
      )}
    </g>
  );
}

function XTick(props: any) {
  const { x, y, payload, showLabel } = props;
  const v = payload.value;
  const major = near(xMajor, v);
  const top = y - GAP - TICK;
  return (
    <g>
      <line x1={x} x2={x} y1={top} y2={top + (major ? TICK : MINOR)} stroke="#000" strokeWidth={0.9} />
      {showLabel && major && (
        <text x={x} y={y} dy="0.71em" textAnchor="middle" fontFamily={SERIF} fontSize={18} fill="#000">
          {v.toFixed(1)}
        </text>
      )}
    </g>
  );
}

const Triangle = (p: any) => (
  <polygon points={`${p.cx},${p.cy - 4.6} ${p.cx - 4.2},${p.cy + 3.2} ${p.cx + 4.2},${p.cy + 3.2}`} fill={GRAY} />
);
const Dot = (p: any) => <circle cx={p.cx} cy={p.cy} r={3.9} fill={GRAY} />;

function Panel({ i }: { i: number }) {
  const row = Math.floor(i / 4);
  const col = i % 4;
  const bottom = row === 5;
  const xH = bottom ? 34 : 8;

  const curve = curveEnergy.map((x, k) => ({ x, red: redCurves[i][k], blue: blueCurves[i][k], green: greenCurves[i][k] }));
  const tri = triEnergy
    .map((x, k) => ({ x, y: triValues[i][k], e: triErrors[i][k] }))
    .filter((d) => d.y != null);
  const circ = circEnergy
    .map((x, k) => ({ x, y: circValues[i][k], e: circErrors[i][k] }))
    .filter((d) => d.y != null);

  const majors = yMajor[i];
  const yTicks: number[] = [];
  for (let k = 0; k * yMinorStep[i] <= yTop[i] + 1e-9; k++) yTicks.push(Number((k * yMinorStep[i]).toFixed(4)));

  return (
    <div style={{ position: 'absolute', left: colLeft[col] - AXIS_W, top: rowTop[row] - PAD }}>
      <ComposedChart
        width={AXIS_W + PLOT_W + PAD}
        height={PAD + PLOT_H + xH}
        data={curve}
        margin={{ top: PAD, right: PAD, bottom: 0, left: 0 }}
      >
        <XAxis
          type="number"
          dataKey="x"
          domain={[X_MIN, X_MAX]}
          allowDataOverflow
          ticks={xTicks}
          interval={0}
          height={xH}
          tickSize={TICK}
          tickMargin={GAP}
          axisLine={false}
          tickLine={false}
          tick={(p: any) => <XTick {...p} showLabel={bottom} />}
        />
        <YAxis
          type="number"
          domain={[0, yTop[i]]}
          allowDataOverflow
          ticks={yTicks}
          interval={0}
          width={AXIS_W}
          tickSize={TICK}
          tickMargin={GAP}
          axisLine={false}
          tickLine={false}
          tick={(p: any) => <YTick {...p} majors={majors} digits={yDigits[i]} />}
        />
        <Line type="monotone" dataKey="red" stroke="#ff0000" strokeWidth={3} dot={false} activeDot={false} isAnimationActive={false} />
        <Line type="monotone" dataKey="blue" stroke="#0000ff" strokeWidth={2.4} strokeDasharray="9 4" dot={false} activeDot={false} isAnimationActive={false} />
        <Line type="monotone" dataKey="green" stroke="#008000" strokeWidth={2.4} strokeDasharray="2.4 3.6" dot={false} activeDot={false} isAnimationActive={false} />
        <Scatter data={tri} dataKey="y" shape={Triangle} isAnimationActive={false}>
          <ErrorBar dataKey="e" direction="y" width={0} stroke={GRAY} strokeWidth={1.4} />
        </Scatter>
        <Scatter data={circ} dataKey="y" shape={Dot} isAnimationActive={false}>
          <ErrorBar dataKey="e" direction="y" width={0} stroke={GRAY} strokeWidth={1.4} />
        </Scatter>
        <ReferenceArea x1={X_MIN} x2={X_MAX} y1={0} y2={yTop[i]} fill="none" stroke="#000" strokeWidth={1} ifOverflow="visible" />
      </ComposedChart>
      <div
        style={{
          position: 'absolute',
          left: AXIS_W + (i === 23 ? 63 : 16),
          top: PAD + 8,
          fontFamily: SERIF,
          fontSize: 21,
          lineHeight: '22px',
          whiteSpace: 'nowrap',
          color: '#000',
        }}
      >
        cos <i>θ</i>
        <span style={{ padding: '0 1px' }}>=</span>
        <span style={{ fontFamily: SANS, fontSize: 18 }}>{cosLabels[i]}</span>
      </div>
    </div>
  );
}

export default function App() {
  return (
    <div style={{ position: 'absolute', left: 0, top: 0, width: 1380, height: 1027, background: '#fff' }}>
      {cosLabels.map((_, i) => (
        <Panel key={i} i={i} />
      ))}
      <div
        style={{
          position: 'absolute',
          left: 22,
          top: 410,
          transform: 'translate(-50%, -50%) rotate(-90deg)',
          fontFamily: SERIF,
          fontSize: 25,
          whiteSpace: 'nowrap',
        }}
      >
        d<i>σ</i>/d cos <i>θ</i> [<i>μ</i>b]
      </div>
      {colLeft.map((l) => (
        <div
          key={l}
          style={{
            position: 'absolute',
            left: l + PLOT_W / 2,
            top: 994,
            transform: 'translateX(-50%)',
            fontFamily: SERIF,
            fontSize: 23,
            lineHeight: '26px',
            whiteSpace: 'nowrap',
          }}
        >
          √
          <span
            style={{
              display: 'inline-block',
              borderTop: '1.4px solid #000',
              lineHeight: '19px',
              paddingRight: 1,
              verticalAlign: 'baseline',
            }}
          >
            <i>s</i>
          </span>{' '}
          [GeV]
        </div>
      ))}
    </div>
  );
}
